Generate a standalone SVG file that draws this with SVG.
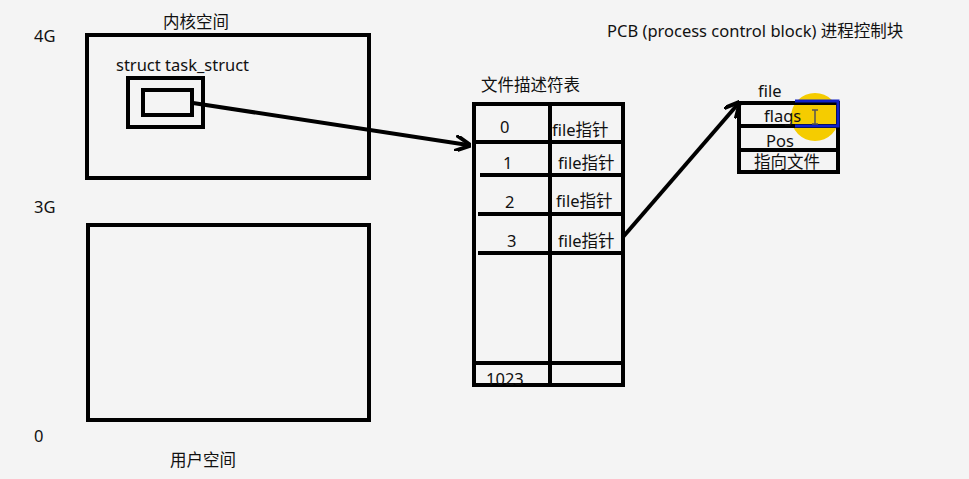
<svg xmlns="http://www.w3.org/2000/svg" width="969" height="479" viewBox="0 0 969 479">
<defs>
<style>
text{font-family:"Noto Sans","Noto Sans CJK SC",sans-serif;font-size:16.5px;fill:#111}
.b{fill:none;stroke:#000;stroke-width:4}
.l{stroke:#000;stroke-width:4;fill:none}
</style>
<marker id="ah" viewBox="0 0 10 10" refX="8" refY="5" markerWidth="4" markerHeight="4" orient="auto"><path d="M0,0 L10,5 L0,10" fill="none" stroke="#000" stroke-width="2.5"/></marker>
</defs>
<rect width="969" height="479" fill="#f4f4f4"/>
<g id="labels">
<text x="34" y="42">4G</text>
<text x="34" y="213">3G</text>
<text x="34" y="442">0</text>
<text x="607" y="37">PCB  (process control block) 进程控制块</text>
</g>
<g id="kernel">
<rect class="b" x="87" y="35" width="282" height="143"/>
<text x="163" y="28">内核空间</text>
<text x="116" y="71">struct task_struct</text>
<rect class="b" x="128" y="78" width="75" height="49"/>
<rect class="b" x="143" y="90" width="49" height="25"/>
</g>
<g id="user">
<rect class="b" x="88" y="225" width="281" height="195"/>
<text x="170" y="466">用户空间</text>
</g>
<g id="fdtable">
<text x="481" y="91">文件描述符表</text>
<rect class="b" x="474" y="104" width="149" height="281"/>
<line class="l" x1="550" y1="104" x2="550" y2="385"/>
<line class="l" x1="474" y1="142" x2="623" y2="142"/>
<line class="l" x1="480" y1="175" x2="623" y2="175"/>
<line class="l" x1="478" y1="214" x2="623" y2="214"/>
<line class="l" x1="478" y1="253" x2="623" y2="253"/>
<line class="l" x1="474" y1="363" x2="623" y2="363"/>
<text x="500" y="133">0</text>
<text x="552" y="136">file指针</text>
<text x="503" y="169">1</text>
<text x="558" y="169">file指针</text>
<text x="505" y="208">2</text>
<text x="556" y="207">file指针</text>
<text x="507" y="247">3</text>
<text x="558" y="247">file指针</text>
<text x="486" y="385">1023</text>
</g>
<g id="file">
<text x="758" y="97">file</text>
<circle cx="815" cy="117" r="24" fill="#f5cc00"/>
<rect class="b" x="739" y="103" width="99" height="69"/>
<line class="l" x1="739" y1="126" x2="838" y2="126"/>
<line class="l" x1="739" y1="150" x2="838" y2="150"/>
<path d="M795,101 H838 V126 H795" fill="none" stroke="#1020c8" stroke-width="3"/>
<text x="764" y="122">flags</text>
<text x="766" y="147">Pos</text>
<text x="754" y="168">指向文件</text>
<line x1="815" y1="110" x2="815" y2="124" stroke="#555" stroke-width="1.5"/>
<line x1="812" y1="110" x2="818" y2="110" stroke="#555" stroke-width="1.5"/>
<line x1="812" y1="124" x2="818" y2="124" stroke="#555" stroke-width="1.5"/>
</g>
<g id="connectors">
<line class="l" x1="193" y1="103" x2="468" y2="145" marker-end="url(#ah)"/>
<line class="l" x1="623" y1="237" x2="738" y2="104" marker-end="url(#ah)"/>
</g>
</svg>
